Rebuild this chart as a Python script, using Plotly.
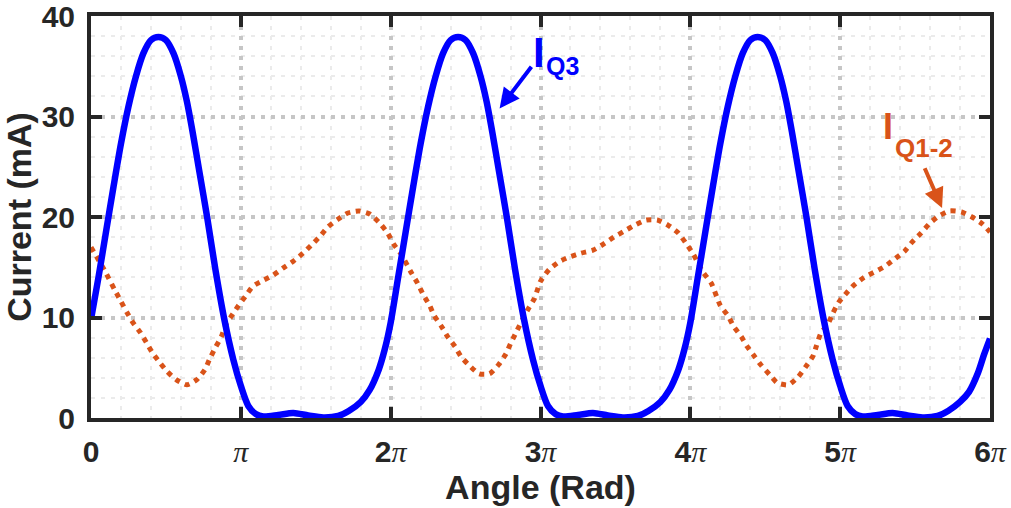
import numpy as np
import plotly.graph_objects as go

# ---------------- data (x in units of pi) ----------------
iq3_x_pi = [0.00, 0.05, 0.10, 0.15, 0.20, 0.25, 0.30, 0.35, 0.40, 0.45, 0.50, 0.55, 0.60, 0.64, 0.68, 0.72, 0.775,
            0.83, 0.89, 0.95, 1.00, 1.05, 1.10, 1.15, 1.25, 1.35, 1.45, 1.55, 1.65, 1.72, 1.80, 1.86, 1.92, 1.96,
            2.00, 2.05, 2.10, 2.15, 2.20, 2.25, 2.30, 2.35, 2.40, 2.45, 2.50, 2.55, 2.60, 2.64, 2.68, 2.72, 2.775,
            2.83, 2.89, 2.95, 3.00, 3.05, 3.10, 3.15, 3.25, 3.35, 3.45, 3.55, 3.65, 3.72, 3.80, 3.86, 3.92, 3.96,
            4.00, 4.05, 4.10, 4.15, 4.20, 4.25, 4.30, 4.35, 4.40, 4.45, 4.50, 4.55, 4.60, 4.64, 4.68, 4.72, 4.775,
            4.83, 4.89, 4.95, 5.00, 5.05, 5.10, 5.15, 5.25, 5.35, 5.45, 5.55, 5.65, 5.72, 5.80, 5.86, 5.92, 5.96,
            6.00]
iq3_ma = [9.8, 14.0, 18.5, 23.0, 27.3, 31.0, 34.0, 36.3, 37.6, 37.9, 37.6, 36.3, 34.0, 31.5, 28.3, 24.8, 20.0,
          14.8, 9.8, 5.8, 3.2, 1.2, 0.4, 0.15, 0.3, 0.5, 0.25, 0.05, 0.2, 0.7, 1.6, 2.8, 4.8, 6.8,
          9.5, 14.0, 18.5, 23.0, 27.3, 31.0, 34.0, 36.3, 37.6, 37.9, 37.6, 36.3, 34.0, 31.5, 28.3, 24.8, 20.0,
          14.8, 9.8, 5.8, 3.2, 1.2, 0.4, 0.15, 0.3, 0.5, 0.25, 0.05, 0.2, 0.7, 1.6, 2.8, 4.8, 6.8,
          9.5, 14.0, 18.5, 23.0, 27.3, 31.0, 34.0, 36.3, 37.6, 37.9, 37.6, 36.3, 34.0, 31.5, 28.3, 24.8, 20.0,
          14.8, 9.8, 5.8, 3.2, 1.2, 0.4, 0.15, 0.3, 0.5, 0.25, 0.05, 0.2, 0.7, 1.6, 2.6, 4.5, 6.3,
          7.9]

iq12_x_pi = [0.00, 0.09, 0.16, 0.20, 0.24, 0.28, 0.33, 0.37, 0.41, 0.46, 0.51, 0.57, 0.64, 0.705, 0.76, 0.79,
             0.83, 0.87, 0.90, 0.94, 0.98, 1.03, 1.08, 1.15, 1.215, 1.28, 1.35, 1.415, 1.47, 1.53, 1.58, 1.65,
             1.715, 1.79, 1.86, 1.92, 1.98,
             2.02, 2.07, 2.14, 2.18, 2.22, 2.26, 2.29, 2.34, 2.38, 2.43, 2.47, 2.52, 2.59, 2.66, 2.72, 2.77,
             2.80, 2.84, 2.88, 2.92, 2.96, 3.00, 3.06, 3.13, 3.19, 3.27, 3.35, 3.42, 3.49, 3.56, 3.63, 3.705,
             3.78, 3.85, 3.92, 3.97,
             4.02, 4.08, 4.14, 4.20, 4.25, 4.29, 4.34, 4.38, 4.43, 4.47, 4.53, 4.58, 4.655, 4.72, 4.77, 4.82,
             4.84, 4.87, 4.92, 4.95, 4.99, 5.04, 5.09, 5.16, 5.24, 5.30, 5.37, 5.43, 5.48, 5.54, 5.60, 5.66,
             5.73, 5.81, 5.88, 5.95, 6.00]
iq12_ma = [17.0, 14.7, 12.7, 11.6, 10.5, 9.5, 8.5, 7.5, 6.5, 5.5, 4.6, 3.8, 3.3, 3.8, 4.8, 5.8,
           7.0, 8.1, 9.3, 10.2, 11.1, 12.1, 13.1, 13.7, 14.2, 14.9, 15.6, 16.4, 17.2, 18.1, 19.0, 19.8,
           20.4, 20.6, 20.3, 19.5, 18.4,
           17.3, 16.3, 14.4, 13.4, 12.2, 11.2, 10.2, 9.1, 8.1, 7.1, 6.1, 5.3, 4.4, 4.4, 5.3, 6.4,
           7.4, 8.6, 9.8, 10.9, 11.9, 13.6, 14.8, 15.6, 16.0, 16.4, 16.7, 17.3, 18.0, 18.6, 19.2, 19.7,
           19.7, 19.2, 18.4, 17.4,
           16.3, 14.6, 13.4, 11.2, 10.2, 9.1, 8.1, 7.1, 6.1, 5.3, 4.3, 3.5, 3.3, 4.1, 5.1, 6.2,
           7.1, 8.4, 9.4, 10.4, 11.5, 12.4, 13.2, 14.0, 14.6, 15.1, 15.9, 16.6, 17.5, 18.4, 19.4, 20.1,
           20.6, 20.5, 20.0, 19.3, 18.5]

tick_multiples = [0, 1, 2, 3, 4, 5, 6]
y_ticks = [0, 10, 20, 30, 40]

# ---------------- styling ----------------
BLUE = "#0000FF"
ORANGE = "#D95319"
AXC = "#262626"
PI_SPAN = "<span style=\"font-family:'Liberation Serif';font-style:italic;font-weight:normal\">π</span>"


def tick_label(k):
    if k == 0:
        return "0"
    if k == 1:
        return PI_SPAN
    return f"{k}{PI_SPAN}"


fig = go.Figure()
fig.add_trace(go.Scatter(x=np.array(iq12_x_pi) * np.pi, y=iq12_ma, mode="lines",
                         line=dict(color=ORANGE, width=5, dash="5px,5.5px", shape="spline", smoothing=0.6),
                         showlegend=False))
fig.add_trace(go.Scatter(x=np.array(iq3_x_pi) * np.pi, y=iq3_ma, mode="lines",
                         line=dict(color=BLUE, width=6.5, shape="spline", smoothing=0.8),
                         showlegend=False))

axis_common = dict(
    showline=True, linewidth=4, linecolor=AXC, mirror="ticks",
    ticks="inside", ticklen=11, tickwidth=4, tickcolor=AXC,
    showgrid=True, gridcolor="#c6c6c6", gridwidth=3.5, griddash="4px,6px",
    zeroline=False, automargin=False, ticklabeloverflow="allow",
    tickfont=dict(family="Liberation Sans", size=30, color=AXC, weight="bold"),
    title_font=dict(family="Liberation Sans", size=34, color=AXC, weight="bold"),
)

fig.update_xaxes(
    range=[0, 6 * np.pi],
    tickmode="array",
    tickvals=[k * np.pi for k in tick_multiples],
    ticktext=[tick_label(k) for k in tick_multiples],
    minor=dict(dtick=np.pi / 5, tick0=0, showgrid=True, gridcolor="#ebebeb", gridwidth=1.5, ticks=""),
    title_text="Angle (Rad)", title_standoff=2, ticklabelstandoff=4,
    **axis_common,
)
fig.update_yaxes(
    range=[0, 40],
    tickmode="array", tickvals=y_ticks, ticktext=[str(v) for v in y_ticks],
    minor=dict(dtick=2, tick0=0, showgrid=True, gridcolor="#ebebeb", gridwidth=1.5, ticks=""),
    title_text="Current (mA)", title_standoff=2, ticklabelstandoff=6,
    **axis_common,
)

annotations = [
    # I_Q3 arrow and label
    dict(x=2.727 * np.pi, y=30.8, ax=2.947 * np.pi, ay=35.1, xref="x", yref="y", axref="x", ayref="y",
         text="", showarrow=True, arrowhead=2, arrowsize=1.0, arrowwidth=4, arrowcolor=BLUE, standoff=0),
    dict(x=2.993 * np.pi, y=36.4, xref="x", yref="y", text="I", showarrow=False,
         font=dict(family="Liberation Sans", size=42, color=BLUE, weight="bold"), xanchor="center", yanchor="middle"),
    dict(x=3.02 * np.pi, y=35.0, xref="x", yref="y", text="Q3", showarrow=False,
         font=dict(family="Liberation Sans", size=25, color=BLUE, weight="bold"), xanchor="left", yanchor="middle"),
    # I_Q1-2 arrow and label
    dict(x=5.68 * np.pi, y=20.9, ax=5.56 * np.pi, ay=25.0, xref="x", yref="y", axref="x", ayref="y",
         text="", showarrow=True, arrowhead=2, arrowsize=1.0, arrowwidth=4, arrowcolor=ORANGE, standoff=0),
    dict(x=5.32 * np.pi, y=29.0, xref="x", yref="y", text="I", showarrow=False,
         font=dict(family="Liberation Sans", size=36, color=ORANGE, weight="bold"), xanchor="center", yanchor="middle"),
    dict(x=5.35 * np.pi, y=26.9, xref="x", yref="y", text="Q1-2", showarrow=False,
         font=dict(family="Liberation Sans", size=26, color=ORANGE, weight="bold"), xanchor="left", yanchor="middle"),
]

fig.update_layout(
    width=1011, height=508,
    margin=dict(l=91, r=21, t=16, b=90),
    paper_bgcolor="white", plot_bgcolor="white",
    annotations=annotations,
    showlegend=False,
)

fig.write_html("out.html")
